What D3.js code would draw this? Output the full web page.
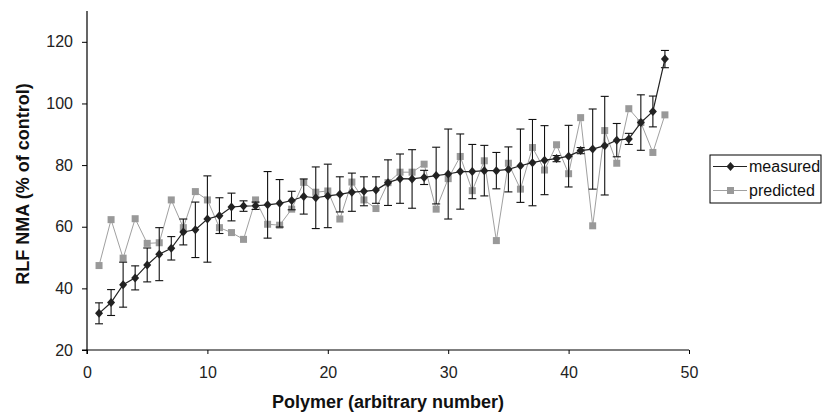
<!DOCTYPE html>
<html>
<head>
<meta charset="utf-8">
<script src="https://cdn.jsdelivr.net/npm/d3@7"></script>
<style>
    body { margin: 0; background: #fff; }
    text { font-family: "Liberation Sans", Arial, sans-serif; }
</style>
</head>
<body>
<div id="chart"></div>
<script>
const measured = [31.9, 35.4, 41.2, 43.4, 47.6, 51.1, 53.0, 58.3, 59.0, 62.5, 63.6, 66.4, 66.7, 66.8, 67.1, 67.6,
    68.5, 69.8, 69.4, 70.0, 70.5, 71.2, 71.5, 71.9, 74.3, 75.6, 75.5, 76.0, 76.6, 77.1, 77.9, 77.9,
    78.2, 78.2, 78.6, 79.8, 80.8, 81.6, 82.1, 82.9, 84.7, 85.2, 86.3, 88.1, 88.5, 93.8, 97.4, 114.4];
const measuredErr = [3.4, 4.2, 7.3, 3.9, 5.5, 8.6, 3.8, 4.2, 9.0, 14.0, 5.8, 4.5, 1.7, 1.2, 10.8, 7.7,
    3.0, 5.7, 10.0, 10.3, 5.7, 6.2, 4.7, 4.3, 7.4, 8.0, 9.5, 2.3, 9.2, 14.6, 12.2, 8.8,
    8.2, 5.9, 7.3, 11.9, 14.0, 11.2, 1.0, 10.0, 1.0, 13.0, 16.0, 5.4, 1.8, 9.0, 5.0, 2.8];
const predicted = [47.4, 62.3, 49.8, 62.6, 54.6, 54.8, 68.7, 59.7, 71.4, 68.7, 59.7, 58.1, 55.9, 68.7, 60.8, 60.5,
    65.7, 74.4, 71.2, 71.6, 62.5, 74.5, 68.7, 65.9, 74.3, 77.7, 77.7, 80.3, 65.7, 75.6, 82.8, 71.7,
    81.4, 55.5, 80.6, 72.2, 85.7, 78.4, 86.6, 77.2, 95.4, 60.3, 91.2, 80.6, 98.3, 93.8, 84.1, 96.3];
const xTicks = [0, 10, 20, 30, 40, 50];
const yTicks = [20, 40, 60, 80, 100, 120];
const seriesNames = ["measured", "predicted"];

const W = 823, H = 413;
const margin = { top: 11, right: 134, bottom: 63, left: 87 };
const width = W - margin.left - margin.right;
const height = H - margin.top - margin.bottom;

const data = measured.map((m, i) => ({ n: i + 1, m, e: measuredErr[i], p: predicted[i] }));

const svg = d3.select("#chart").append("svg")
    .attr("width", W).attr("height", H);
const g = svg.append("g")
    .attr("transform", `translate(${margin.left},${margin.top})`);

const x = d3.scaleLinear().domain([0, 50]).range([0, width]);
const y = d3.scaleLinear().domain([20, 130]).range([height, 0]);

// axes
const xAxis = g.append("g")
    .attr("transform", `translate(0,${height})`)
    .call(d3.axisBottom(x).tickValues(xTicks).tickSize(4).tickPadding(13));
const yAxis = g.append("g")
    .call(d3.axisLeft(y).tickValues(yTicks).tickSize(5).tickPadding(9));
[xAxis, yAxis].forEach(a => {
    a.select(".domain").attr("stroke", "#000").attr("stroke-width", 1.2);
    a.selectAll(".tick line").attr("stroke", "#000");
    a.selectAll(".tick text")
        .style("font-size", "16px")
        .style("font-family", "'Liberation Sans', Arial, sans-serif")
        .attr("fill", "#222");
});
yAxis.select(".domain").attr("d", `M-5,${height}H0V0`);
xAxis.select(".domain").attr("d", `M0,4V0H${width}`);

// axis titles
svg.append("text")
    .attr("x", 388)
    .attr("y", 408)
    .attr("text-anchor", "middle")
    .style("font-size", "18px")
    .style("font-weight", "bold")
    .attr("fill", "#111")
    .text("Polymer (arbitrary number)");

svg.append("text")
    .attr("transform", "translate(29,184) rotate(-90)")
    .attr("text-anchor", "middle")
    .style("font-size", "18px")
    .style("font-weight", "bold")
    .attr("fill", "#111")
    .text("RLF NMA (% of control)");

// predicted series
const line = d3.line().x(d => x(d[0])).y(d => y(d[1]));
g.append("path")
    .datum(data.map(d => [d.n, d.p]))
    .attr("d", line)
    .attr("fill", "none")
    .attr("stroke", "#a0a0a0")
    .attr("stroke-width", 1);
g.selectAll(".sq")
    .data(data).enter().append("rect")
    .attr("class", "sq")
    .attr("x", d => x(d.n) - 3.5)
    .attr("y", d => y(d.p) - 3.5)
    .attr("width", 7).attr("height", 7)
    .attr("fill", "#999");

// error bars
const eb = g.selectAll(".eb").data(data).enter().append("g").attr("class", "eb")
    .attr("stroke", "#111").attr("stroke-width", 1.1);
eb.append("line")
    .attr("x1", d => x(d.n)).attr("x2", d => x(d.n))
    .attr("y1", d => y(d.m + d.e)).attr("y2", d => y(d.m - d.e));
eb.append("line")
    .attr("x1", d => x(d.n) - 4).attr("x2", d => x(d.n) + 4)
    .attr("y1", d => y(d.m + d.e)).attr("y2", d => y(d.m + d.e));
eb.append("line")
    .attr("x1", d => x(d.n) - 4).attr("x2", d => x(d.n) + 4)
    .attr("y1", d => y(d.m - d.e)).attr("y2", d => y(d.m - d.e));

// measured series
g.append("path")
    .datum(data.map(d => [d.n, d.m]))
    .attr("d", line)
    .attr("fill", "none")
    .attr("stroke", "#222")
    .attr("stroke-width", 1.2);
const diamond = "M0,-4.5L4,0L0,4.5L-4,0Z";
g.selectAll(".dm")
    .data(data).enter().append("path")
    .attr("class", "dm")
    .attr("d", diamond)
    .attr("transform", d => `translate(${x(d.n)},${y(d.m)})`)
    .attr("fill", "#222");

// legend
const lg = svg.append("g").attr("transform", "translate(710,155)");
lg.append("rect")
    .attr("width", 111).attr("height", 48)
    .attr("fill", "#fff").attr("stroke", "#000").attr("stroke-width", 1);
seriesNames.forEach((name, i) => {
    const ly = 11.5 + i * 24;
    const col = i === 0 ? "#222" : "#a0a0a0";
    lg.append("line")
        .attr("x1", 3).attr("x2", 37).attr("y1", ly).attr("y2", ly)
        .attr("stroke", col).attr("stroke-width", i === 0 ? 1.2 : 1);
    if (i === 0) {
        lg.append("path").attr("d", diamond)
            .attr("transform", `translate(20.5,${ly})`).attr("fill", "#222");
    } else {
        lg.append("rect").attr("x", 17).attr("y", ly - 3.5)
            .attr("width", 7).attr("height", 7).attr("fill", "#999");
    }
    lg.append("text")
        .attr("x", 39).attr("y", ly + 5.5)
        .style("font-size", "16px")
        .attr("fill", "#111")
        .text(name);
});
</script>
</body>
</html>
